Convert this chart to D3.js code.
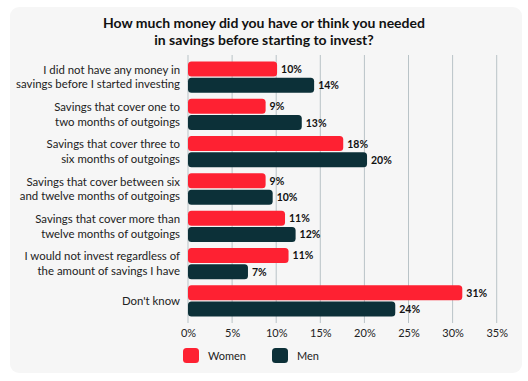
<!DOCTYPE html>
<html>
<head>
<meta charset="utf-8">
<script src="https://cdn.jsdelivr.net/npm/d3@7"></script>
<style>
  html, body { margin: 0; padding: 0; background: #ffffff; }
  svg { display: block; }
  text { font-family: Lato, "Open Sans", sans-serif; }
</style>
</head>
<body>
<div id="chart"></div>
<script>
const title = ["How much money did you have or think you needed", "in savings before starting to invest?"];
const categories = [
  ["I did not have any money in", "savings before I started investing"],
  ["Savings that cover one to", "two months of outgoings"],
  ["Savings that cover three to", "six months of outgoings"],
  ["Savings that cover between six", "and twelve months of outgoings"],
  ["Savings that cover more than", "twelve months of outgoings"],
  ["I would not invest regardless of", "the amount of savings I have"],
  ["Don't know"]
];
const seriesNames = ["Women", "Men"];
const women = [10.1, 8.8, 17.6, 8.8, 11.0, 11.4, 31.1];
const men = [14.3, 12.9, 20.3, 9.6, 12.2, 6.8, 23.5];
const ticks = [0, 5, 10, 15, 20, 25, 30, 35];
const colors = ["#fe2132", "#0c3038"];

const W = 528, H = 381;
const svg = d3.select("#chart").append("svg").attr("width", W).attr("height", H);

svg.append("rect").attr("x", 10).attr("y", 7).attr("width", 512).attr("height", 366)
  .attr("rx", 9).attr("fill", "#f6f6f6");

const t = svg.append("text").attr("text-anchor", "middle").attr("font-weight", 700)
  .attr("font-size", 14).attr("fill", "#111");
title.forEach((l, i) => t.append("tspan").attr("x", 264).attr("y", 28 + i * 16.5).text(l));

const x = d3.scaleLinear().domain([0, 35]).range([188, 496.7]);
const y = d3.scaleBand().domain(d3.range(categories.length)).range([58.5, 319.5]).paddingInner(0.0).paddingOuter(0);
const sub = d3.scaleBand().domain([0, 1]).range([3, y.bandwidth() - 3]).paddingInner(0.08);

// gridlines
svg.append("g").selectAll("line").data(ticks).join("line")
  .attr("x1", d => x(d)).attr("x2", d => x(d)).attr("y1", 55).attr("y2", 323)
  .attr("stroke", "#b9c3c7").attr("stroke-width", 1);

// axis labels
const axis = d3.axisBottom(x).tickValues(ticks).tickFormat(d => d + "%").tickSize(0);
const ag = svg.append("g").attr("transform", "translate(0,326)").call(axis);
ag.select(".domain").remove();
ag.selectAll("text").attr("font-size", 11).attr("fill", "#222").attr("font-family", "Lato, sans-serif");

// category labels
categories.forEach((lines, i) => {
  const cy = y(i) + y.bandwidth() / 2;
  const txt = svg.append("text").attr("text-anchor", "end").attr("font-size", 11.4).attr("fill", "#222");
  const n = lines.length;
  lines.forEach((l, j) => {
    txt.append("tspan").attr("x", 180).attr("y", cy + (j - (n - 1) / 2) * 14.5 + 4).text(l);
  });
});

const data = [women, men];
data.forEach((vals, s) => {
  const g = svg.append("g");
  g.selectAll("rect").data(vals).join("rect")
    .attr("x", x(0)).attr("y", (d, i) => y(i) + sub(s))
    .attr("width", d => x(d) - x(0)).attr("height", sub.bandwidth())
    .attr("rx", 3.5).attr("fill", colors[s]);
  g.selectAll("text").data(vals).join("text")
    .attr("x", d => x(d) + 4).attr("y", (d, i) => y(i) + sub(s) + sub.bandwidth() / 2 + 4)
    .attr("font-size", 10.5).attr("font-weight", 700).attr("fill", "#111")
    .text(d => Math.round(d) + "%");
});

// legend
const lg = svg.append("g");
seriesNames.forEach((n, i) => {
  const lx = 183 + i * 89;
  lg.append("rect").attr("x", lx).attr("y", 348).attr("width", 16).attr("height", 15)
    .attr("rx", 3.5).attr("fill", colors[i]);
  lg.append("text").attr("x", lx + 25).attr("y", 359.5).attr("font-size", 11).attr("fill", "#222").text(n);
});
</script>
</body>
</html>
